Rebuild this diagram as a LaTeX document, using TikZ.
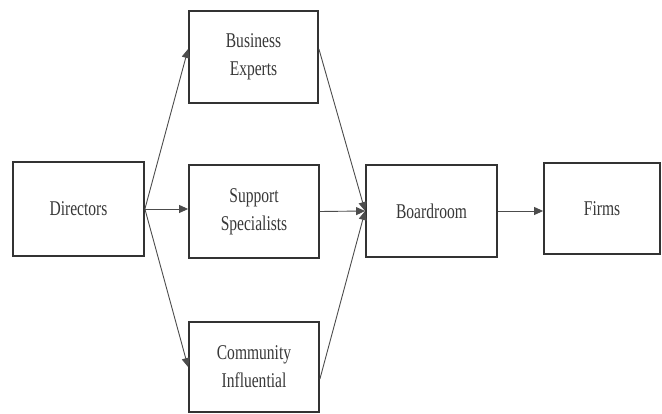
\documentclass[tikz,border=0pt]{standalone}
\usepackage{fontspec}
\setmainfont{Liberation Serif}
\newfontfamily\boxfont[FakeStretch=0.74]{Liberation Serif}
\usetikzlibrary{arrows.meta}
\begin{document}
\begin{tikzpicture}[x=1pt,y=-1pt,
  box/.style={draw=black!80,line width=1.8pt,fill=white,inner sep=0pt,
    text=black!78,align=center,font=\boxfont\fontsize{21}{28}\selectfont},
  link/.style={draw=black!70,line width=0.9pt,-{Triangle[length=9pt,width=8pt]}}]
\useasboundingbox (0,0) rectangle (662,414);
% boxes given by their corners
\node[box,minimum width=131pt,minimum height=94pt] (dir) at (78.5,209) {Directors};
\node[box,minimum width=129pt,minimum height=92pt] (bus) at (253.5,57) {Business\\Experts};
\node[box,minimum width=130pt,minimum height=93pt] (sup) at (254,211.5) {Support\\Specialists};
\node[box,minimum width=130pt,minimum height=90pt] (com) at (254,367) {Community\\Influential};
\node[box,minimum width=131pt,minimum height=92pt] (brd) at (431.5,211) {Boardroom};
\node[box,minimum width=116pt,minimum height=91pt] (frm) at (602,208.5) {Firms};
% connectors
\coordinate (dirout) at (dir.east);
\coordinate (busin) at ([yshift=8pt]bus.west);
\coordinate (comin) at (com.west);
\coordinate (busout) at ([yshift=8pt]bus.east);
\coordinate (comout) at ([yshift=-12pt]com.east);
\draw[link] (dirout) -- (busin);
\draw[link] (dirout) -- (sup.west |- dirout);
\draw[link] (dirout) -- (comin);
\draw[link] (busout) -- (brd.west);
\draw[link] (sup.east) -- (brd.west);
\draw[link] (comout) -- (brd.west);
\draw[link] (brd.east) -- (frm.west |- brd.east);
\end{tikzpicture}
\end{document}
